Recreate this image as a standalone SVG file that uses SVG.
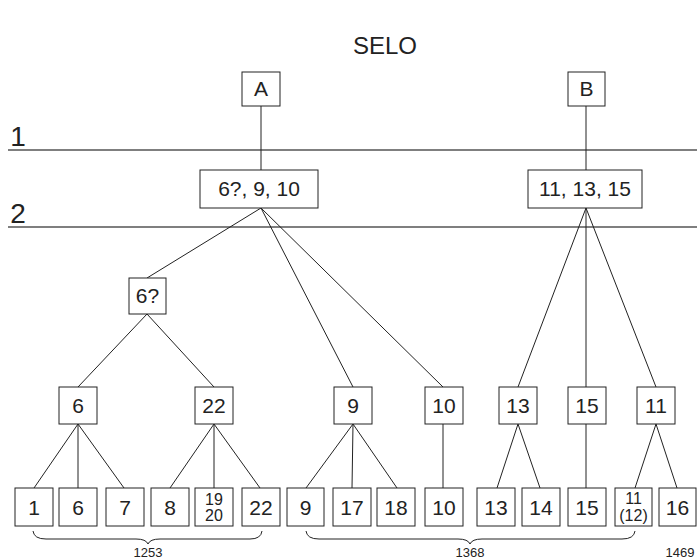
<svg xmlns="http://www.w3.org/2000/svg" width="697" height="560" viewBox="0 0 697 560">
<style>
.bx{fill:#fff;stroke:#222;stroke-width:1}
.t{font-family:"Liberation Sans",Arial,sans-serif;font-size:21px;fill:#222;text-anchor:middle}
.s{font-family:"Liberation Sans",Arial,sans-serif;font-size:16px;fill:#222;text-anchor:middle}
.lab{font-family:"Liberation Sans",Arial,sans-serif;font-size:13px;fill:#222;text-anchor:middle}
.c line,.c path{stroke:#222;stroke-width:1;fill:none}
.lv{stroke:#555;stroke-width:1.5}
</style>
<rect width="697" height="560" fill="#fff"/>
<text x="385" y="54" class="t" style="font-size:24px">SELO</text>
<g id="levels">
<line x1="8" y1="150" x2="697" y2="150" class="lv"/>
<line x1="8" y1="227" x2="697" y2="227" class="lv"/>
<text x="18" y="146" class="t" style="font-size:28px">1</text>
<text x="18" y="223" class="t" style="font-size:28px">2</text>
</g>
<g class="c" id="connectors">
<line x1="261" y1="106" x2="261" y2="170"/>
<line x1="586" y1="106" x2="586" y2="170"/>
<line x1="261" y1="208" x2="147" y2="278"/>
<line x1="261" y1="208" x2="353" y2="387"/>
<line x1="261" y1="208" x2="443" y2="387"/>
<line x1="586" y1="208" x2="518" y2="387"/>
<line x1="586" y1="208" x2="586" y2="387"/>
<line x1="586" y1="208" x2="656" y2="387"/>
<line x1="147" y1="314" x2="78" y2="387"/>
<line x1="147" y1="314" x2="214" y2="387"/>
<line x1="78" y1="424" x2="34" y2="488"/>
<line x1="78" y1="424" x2="78" y2="488"/>
<line x1="78" y1="424" x2="124" y2="488"/>
<line x1="214" y1="424" x2="170" y2="488"/>
<line x1="214" y1="424" x2="214" y2="488"/>
<line x1="214" y1="424" x2="260" y2="488"/>
<line x1="353" y1="424" x2="306" y2="488"/>
<line x1="353" y1="424" x2="352" y2="488"/>
<line x1="353" y1="424" x2="397" y2="488"/>
<line x1="443" y1="424" x2="443" y2="488"/>
<line x1="518" y1="424" x2="497" y2="488"/>
<line x1="518" y1="424" x2="540" y2="488"/>
<line x1="586" y1="424" x2="586" y2="488"/>
<line x1="656" y1="424" x2="635" y2="488"/>
<line x1="656" y1="424" x2="677" y2="488"/>
<path d="M33,531 Q34,539 46,539 L136,539 Q146,539 148,544 Q150,539 160,539 L250,539 Q261,539 262,531"/>
<path d="M306,531 Q307,539 319,539 L458,539 Q468,539 470,544 Q472,539 482,539 L622,539 Q634,539 635,531"/>
</g>
<g id="nA"><rect class="bx" x="242" y="72" width="38" height="34"/><text class="t" x="261" y="96">A</text></g>
<g id="nB"><rect class="bx" x="568" y="72" width="37" height="34"/><text class="t" x="586.5" y="96">B</text></g>
<g id="nA2"><rect class="bx" x="200" y="170" width="118" height="38"/><text class="t" x="259" y="196">6?, 9, 10</text></g>
<g id="nB2"><rect class="bx" x="528" y="170" width="114" height="38"/><text class="t" x="585" y="196">11, 13, 15</text></g>
<g id="n6q"><rect class="bx" x="129" y="278" width="37" height="36"/><text class="t" x="147.5" y="303">6?</text></g>
<g id="m6"><rect class="bx" x="59" y="387" width="38" height="37"/><text class="t" x="78" y="413">6</text></g>
<g id="m22"><rect class="bx" x="195" y="387" width="38" height="37"/><text class="t" x="214" y="413">22</text></g>
<g id="m9"><rect class="bx" x="334" y="387" width="38" height="37"/><text class="t" x="353" y="413">9</text></g>
<g id="m10"><rect class="bx" x="425" y="387" width="38" height="37"/><text class="t" x="444" y="413">10</text></g>
<g id="m13"><rect class="bx" x="499" y="387" width="38" height="37"/><text class="t" x="518" y="413">13</text></g>
<g id="m15"><rect class="bx" x="568" y="387" width="38" height="37"/><text class="t" x="587" y="413">15</text></g>
<g id="m11"><rect class="bx" x="637" y="387" width="38" height="37"/><text class="t" x="656" y="413">11</text></g>
<g id="b1"><rect class="bx" x="15" y="488" width="38" height="38"/><text class="t" x="34" y="515">1</text></g>
<g id="b6"><rect class="bx" x="59" y="488" width="38" height="38"/><text class="t" x="78" y="515">6</text></g>
<g id="b7"><rect class="bx" x="106" y="488" width="38" height="38"/><text class="t" x="125" y="515">7</text></g>
<g id="b8"><rect class="bx" x="151" y="488" width="38" height="38"/><text class="t" x="170" y="515">8</text></g>
<g id="b1920"><rect class="bx" x="195" y="488" width="38" height="38"/><text class="s" x="214" y="505">19</text><text class="s" x="214" y="521">20</text></g>
<g id="b22"><rect class="bx" x="242" y="488" width="38" height="38"/><text class="t" x="261" y="515">22</text></g>
<g id="b9"><rect class="bx" x="287" y="488" width="37" height="38"/><text class="t" x="305.5" y="515">9</text></g>
<g id="b17"><rect class="bx" x="333" y="488" width="38" height="38"/><text class="t" x="352" y="515">17</text></g>
<g id="b18"><rect class="bx" x="377" y="488" width="38" height="38"/><text class="t" x="396" y="515">18</text></g>
<g id="b10"><rect class="bx" x="425" y="488" width="38" height="38"/><text class="t" x="444" y="515">10</text></g>
<g id="b13"><rect class="bx" x="477" y="488" width="38" height="38"/><text class="t" x="496" y="515">13</text></g>
<g id="b14"><rect class="bx" x="522" y="488" width="38" height="38"/><text class="t" x="541" y="515">14</text></g>
<g id="b15"><rect class="bx" x="568" y="488" width="38" height="38"/><text class="t" x="587" y="515">15</text></g>
<g id="b1112"><rect class="bx" x="615" y="488" width="37" height="38"/><text class="s" x="633.5" y="504">11</text><text class="s" x="633.5" y="521">(12)</text></g>
<g id="b16"><rect class="bx" x="659" y="488" width="37" height="38"/><text class="t" x="677.5" y="515">16</text></g>
<g id="labels">
<text class="lab" x="148" y="557">1253</text>
<text class="lab" x="470" y="557">1368</text>
<text class="lab" x="680" y="557">1469</text>
</g>
</svg>
